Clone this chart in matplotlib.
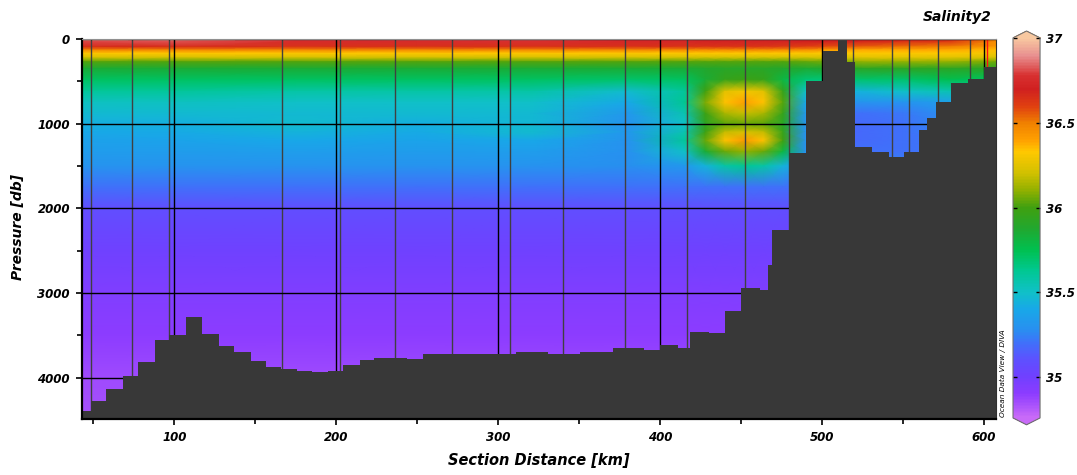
import numpy as np
import matplotlib
matplotlib.use('Agg')
import matplotlib.pyplot as plt
from matplotlib.colors import LinearSegmentedColormap

plt.rcParams['font.family'] = ['DejaVu Sans']
plt.rcParams['font.weight'] = 'bold'
plt.rcParams['font.style'] = 'italic'

# section grid (distance in km, pressure in db)
dist_km = [43, 100, 175, 250, 320, 380, 415, 428, 440, 452, 464, 476, 490, 505, 525, 550, 580, 608]
pres_db = [0, 30, 90, 130, 170, 220, 270, 350, 480, 620, 750, 880, 1000, 1100,
           1200, 1330, 1500, 1750, 2000, 2500, 3000, 3500, 4000, 4500]

salinity = [
    [36.95, 36.95, 36.82, 36.85, 36.85, 36.78, 36.78, 36.78, 36.78, 36.76, 36.76, 36.76, 36.75, 36.74, 36.72, 36.72, 36.65, 36.50],
    [36.80, 36.82, 36.75, 36.76, 36.78, 36.73, 36.73, 36.72, 36.72, 36.72, 36.72, 36.72, 36.70, 36.70, 36.68, 36.65, 36.62, 36.45],
    [36.66, 36.66, 36.65, 36.65, 36.65, 36.65, 36.64, 36.64, 36.64, 36.64, 36.64, 36.62, 36.60, 36.58, 36.55, 36.52, 36.50, 36.42],
    [36.48, 36.48, 36.48, 36.48, 36.48, 36.48, 36.47, 36.47, 36.47, 36.47, 36.47, 36.46, 36.45, 36.42, 36.38, 36.38, 36.38, 36.35],
    [36.33, 36.33, 36.33, 36.33, 36.33, 36.33, 36.33, 36.33, 36.33, 36.33, 36.33, 36.33, 36.32, 36.32, 36.32, 36.32, 36.32, 36.30],
    [36.20, 36.20, 36.20, 36.20, 36.20, 36.20, 36.20, 36.20, 36.20, 36.20, 36.20, 36.20, 36.21, 36.22, 36.24, 36.24, 36.24, 36.22],
    [36.02, 36.02, 36.02, 36.02, 36.02, 36.02, 36.02, 36.02, 36.02, 36.02, 36.02, 36.02, 36.04, 36.06, 36.10, 36.10, 36.10, 36.06],
    [35.85, 35.85, 35.85, 35.85, 35.85, 35.85, 35.85, 35.88, 35.90, 35.90, 35.90, 35.88, 35.86, 35.88, 35.92, 35.92, 35.92, 35.90],
    [35.72, 35.72, 35.72, 35.72, 35.72, 35.70, 35.72, 35.85, 35.95, 35.98, 35.95, 35.80, 35.68, 35.68, 35.70, 35.70, 35.75, 35.72],
    [35.60, 35.60, 35.58, 35.58, 35.58, 35.48, 35.60, 36.00, 36.25, 36.30, 36.25, 35.95, 35.50, 35.45, 35.45, 35.50, 35.55, 35.55],
    [35.52, 35.52, 35.50, 35.50, 35.50, 35.40, 35.62, 36.08, 36.34, 36.40, 36.34, 36.02, 35.40, 35.30, 35.30, 35.30, 35.35, 35.40],
    [35.47, 35.47, 35.47, 35.47, 35.47, 35.32, 35.55, 35.98, 36.14, 36.18, 36.14, 35.95, 35.32, 35.20, 35.20, 35.22, 35.30, 35.35],
    [35.43, 35.43, 35.48, 35.43, 35.46, 35.30, 35.50, 35.92, 36.03, 36.05, 36.03, 35.90, 35.30, 35.17, 35.18, 35.20, 35.28, 35.30],
    [35.40, 35.41, 35.45, 35.41, 35.48, 35.32, 35.55, 35.98, 36.18, 36.22, 36.18, 35.95, 35.30, 35.16, 35.18, 35.20, 35.25, 35.30],
    [35.37, 35.38, 35.40, 35.38, 35.40, 35.30, 35.60, 36.05, 36.34, 36.42, 36.34, 36.00, 35.30, 35.17, 35.18, 35.20, 35.22, 35.25],
    [35.34, 35.34, 35.35, 35.34, 35.35, 35.29, 35.50, 35.85, 36.05, 36.10, 36.05, 35.80, 35.29, 35.20, 35.20, 35.20, 35.22, 35.22],
    [35.30, 35.30, 35.30, 35.30, 35.30, 35.28, 35.32, 35.45, 35.58, 35.62, 35.58, 35.45, 35.27, 35.25, 35.25, 35.25, 35.25, 35.25],
    [35.20, 35.20, 35.20, 35.20, 35.20, 35.20, 35.20, 35.20, 35.20, 35.20, 35.20, 35.20, 35.20, 35.20, 35.20, 35.20, 35.20, 35.20],
    [35.09, 35.09, 35.09, 35.09, 35.09, 35.09, 35.09, 35.09, 35.09, 35.09, 35.09, 35.09, 35.09, 35.09, 35.09, 35.09, 35.09, 35.09],
    [35.01, 35.01, 35.01, 35.01, 35.01, 35.01, 35.01, 35.01, 35.01, 35.01, 35.01, 35.01, 35.01, 35.01, 35.01, 35.01, 35.01, 35.01],
    [34.95, 34.95, 34.95, 34.95, 34.95, 34.95, 34.95, 34.95, 34.95, 34.95, 34.95, 34.95, 34.95, 34.95, 34.95, 34.95, 34.95, 34.95],
    [34.90, 34.90, 34.90, 34.90, 34.90, 34.90, 34.90, 34.90, 34.90, 34.90, 34.90, 34.90, 34.90, 34.90, 34.90, 34.90, 34.90, 34.90],
    [34.86, 34.86, 34.86, 34.86, 34.86, 34.86, 34.86, 34.86, 34.86, 34.86, 34.86, 34.86, 34.86, 34.86, 34.86, 34.86, 34.86, 34.86],
    [34.84, 34.84, 34.84, 34.84, 34.84, 34.84, 34.84, 34.84, 34.84, 34.84, 34.84, 34.84, 34.84, 34.84, 34.84, 34.84, 34.84, 34.84],
]

# bottom topography (step edges)
bathy_km = [43, 48.6, 57.8, 68.5, 77.8, 88.1, 96.9, 107.2, 116.9, 127.8, 136.9, 147.4, 156.5,
            165.7, 175.6, 184.9, 195.1, 204.0, 214.7, 223.5, 243.5, 253.8, 291.3, 311.1, 330.8,
            350.6, 371.0, 390.1, 400.2, 410.8, 418.8, 430.3, 440.2, 450.0, 461.8, 466.7, 469.2,
            479.7, 490.2, 500.5, 509.7, 515.5, 520.5, 530.7, 541.2, 550.5, 560.0, 564.8, 570.2,
            579.5, 590.4, 600.3, 608]
bathy_db = [4397, 4275, 4141, 3983, 3822, 3558, 3499, 3290, 3487, 3625, 3696, 3803, 3873,
            3904, 3921, 3940, 3924, 3853, 3798, 3771, 3783, 3727, 3720, 3695, 3720,
            3695, 3649, 3679, 3612, 3649, 3458, 3479, 3218, 2948, 2968, 2672, 2251,
            1352, 497, 142, 0, 276, 1273, 1340, 1391, 1332, 1075, 938, 741,
            516, 477, 327, 327]

stations_km = [48.6, 73.7, 96.5, 166.3, 202.5, 236.1, 271.7, 307.3, 340.1, 378.6,
               416.5, 452.5, 479.7, 519.0, 543.2, 553.6, 571.9, 591.4]
current_station_km = 602.0

cb_ticks = [35, 35.5, 36, 36.5, 37]
cb_labels = ['35', '35.5', '36', '36.5', '37']

odv = LinearSegmentedColormap.from_list('odv', [
    (0.000, '#c86af8'), (0.0625, '#8c3cff'), (0.107, '#7040ff'), (0.152, '#5e50ff'),
    (0.196, '#4070fa'), (0.232, '#2890f0'), (0.286, '#18a8e8'), (0.330, '#10c0c8'),
    (0.388, '#00c890'), (0.442, '#00c050'), (0.496, '#20a830'), (0.554, '#40a010'),
    (0.598, '#90b000'), (0.643, '#d0c000'), (0.701, '#ffc800'), (0.732, '#ffa000'),
    (0.777, '#f08000'), (0.821, '#e04010'), (0.866, '#d02020'), (0.902, '#d83030'),
    (0.955, '#e89090'), (1.000, '#f8c8a0')])
odv.set_over('#f8c8a0')
odv.set_under('#c86af8')

fig = plt.figure(figsize=(10.77, 4.75), dpi=100)
ax = fig.add_axes([0.0766, 0.1179, 0.8482, 0.800])

X, Y = np.meshgrid(dist_km, pres_db)
mesh = ax.pcolormesh(X, Y, np.array(salinity), shading='gouraud', cmap=odv,
                     vmin=34.76, vmax=37.0, zorder=1, rasterized=True)

ax.vlines(stations_km, 0, 4600, color='#404040', lw=1.0, zorder=2)
ax.vlines([current_station_km], 0, 4600, color='#ff1010', lw=1.0, zorder=2)

ax.fill_between(bathy_km, bathy_db, 4600, step='post', color='#383838', lw=0, zorder=3)

ax.set_xlim(43.3, 607.5)
ax.set_ylim(4490, 0)
ax.set_xticks([100, 200, 300, 400, 500, 600])
ax.set_xticks(np.arange(50, 601, 100), minor=True)
ax.set_yticks([0, 1000, 2000, 3000, 4000])
ax.set_yticks([500, 1500, 2500, 3500], minor=True)
ax.grid(True, which='major', color='black', lw=1.0)
ax.set_axisbelow(False)
for gl in ax.get_xgridlines() + ax.get_ygridlines():
    gl.set_zorder(4)
ax.tick_params(which='both', direction='out', length=4, width=1.2, labelsize=8.5, pad=5)
ax.tick_params(which='minor', length=3.5)

for side in ['left', 'bottom']:
    ax.spines[side].set_linewidth(1.6)
    ax.spines[side].set_color('black')
ax.spines['top'].set_color('#909090')
ax.spines['right'].set_color('#303030')
for sp in ax.spines.values():
    sp.set_zorder(5)

# colorbar: interior spans the plot height, pointed ends stick out
cax = fig.add_axes([0.9406, 0.1057, 0.0251, 0.829])
cb = fig.colorbar(mesh, cax=cax, extend='both', extendfrac=0.018, ticks=cb_ticks)
cb.ax.set_yticklabels(cb_labels)
cb.ax.tick_params(direction='in', length=3, width=1, labelsize=8.5, pad=4, left=True)
cb.outline.set_edgecolor('#707070')
cb.outline.set_linewidth(0.8)

fig.text(992 / 1077, 1 - 17 / 475, 'Salinity2', ha='right', va='center', fontsize=10)
fig.text(18 / 1077, 1 - 227 / 475, 'Pressure [db]', rotation=90, ha='center', va='center', fontsize=10)
fig.text(539 / 1077, 1 - 461 / 475, 'Section Distance [km]', ha='center', va='center', fontsize=10.5)
fig.text(1003 / 1077, 1 - 417 / 475, 'Ocean Data View / DIVA', rotation=90, ha='center',
         va='bottom', fontsize=5.3, fontweight='normal', fontstyle='italic')

fig.savefig('out.png', dpi=100)
